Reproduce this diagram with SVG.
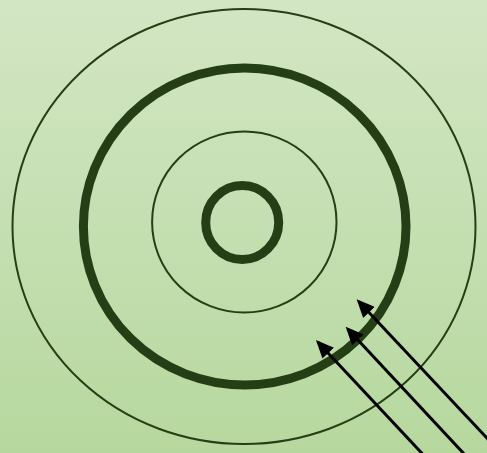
<svg xmlns="http://www.w3.org/2000/svg" width="487" height="453" viewBox="0 0 487 453">
<defs>
<linearGradient id="bg" x1="0" y1="0" x2="0" y2="1">
<stop offset="0" stop-color="#d3e6c4"/>
<stop offset="1" stop-color="#b6d89e"/>
</linearGradient>
<marker id="ah" markerUnits="userSpaceOnUse" markerWidth="19" markerHeight="16" refX="15" refY="8" orient="auto">
<path d="M0,0 L18,8 L0,16 z" fill="#000"/>
</marker>
<style>
.ring{fill:none;stroke:#263e15}
.thin{stroke-width:2}
.thick{stroke-width:9}
.arrow{stroke:#000;stroke-width:3;fill:none;marker-end:url(#ah)}
</style>
</defs>
<rect width="487" height="453" fill="url(#bg)"/>
<g id="outer-ring"><ellipse class="ring thin" cx="244" cy="226.5" rx="231.5" ry="217.5"/></g>
<g id="thick-ring"><ellipse class="ring thick" cx="244.7" cy="226.5" rx="161.3" ry="158.5"/></g>
<g id="middle-ring"><ellipse class="ring thin" cx="244.3" cy="222" rx="92.2" ry="90.5"/></g>
<g id="inner-ring"><ellipse class="ring thick" cx="242.2" cy="222.5" rx="36.5" ry="37"/></g>
<g id="connectors">
<line class="arrow" x1="440" y1="472.6" x2="318" y2="342.2"/>
<line class="arrow" x1="480" y1="471" x2="347.7" y2="328.9"/>
<line class="arrow" x1="500" y1="452" x2="358.7" y2="301.5"/>
</g>
</svg>
